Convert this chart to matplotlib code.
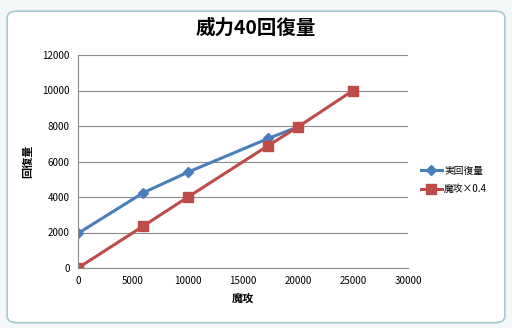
import matplotlib.pyplot as plt
from matplotlib.patches import FancyBboxPatch

plt.rcParams['font.family'] = ['Noto Sans CJK JP', 'DejaVu Sans']

# data
atk_real = [0, 5900, 10000, 17300, 20000]
heal_real = [1950, 4230, 5400, 7300, 7950]
atk_est = [0, 5900, 10000, 17300, 20000, 25000]
heal_est = [0, 2350, 4000, 6900, 7950, 10000]

x_ticks = [0, 5000, 10000, 15000, 20000, 25000, 30000]
y_ticks = [0, 2000, 4000, 6000, 8000, 10000, 12000]

fig = plt.figure(figsize=(5.12, 3.28), dpi=100)
fig.patch.set_facecolor('#f3f7f8')

# outer chart frame (Excel style)
frame = FancyBboxPatch((0.014, 0.016), 0.972, 0.95, boxstyle='round,pad=0,rounding_size=0.02',
                       transform=fig.transFigure, facecolor='white', edgecolor='#a9c6d3',
                       linewidth=1.2, zorder=-1)
fig.patches.append(frame)

ax = fig.add_axes([78 / 512, 1 - 268 / 328, 330 / 512, 213 / 328])
ax.set_facecolor('white')

ax.plot(atk_real, heal_real, color='#4a7ebb', lw=2.2, marker='D', ms=5, label='実回復量')
ax.plot(atk_est, heal_est, color='#be4b48', lw=2.2, marker='s', ms=7, label='魔攻×0.4')

ax.set_xlim(0, 30000)
ax.set_ylim(0, 12000)
ax.set_xticks(x_ticks)
ax.set_yticks(y_ticks)
ax.tick_params(labelsize=7, length=0, pad=6)
ax.grid(axis='y', color='#8c8c8c', lw=0.8)
ax.set_axisbelow(True)
for s in ['top', 'right']:
    ax.spines[s].set_visible(False)
ax.spines['left'].set_color('#8c8c8c')
ax.spines['bottom'].set_color('#8c8c8c')
for lab in ax.get_xticklabels() + ax.get_yticklabels():
    lab.set_clip_on(False)

ax.set_xlabel('魔攻', fontsize=8, fontweight='bold', labelpad=4)
ax.set_ylabel('回復量', fontsize=8, fontweight='bold', labelpad=6)

fig.text(0.5, 1 - 28 / 328, '威力40回復量', ha='center', va='center', fontsize=14, fontweight='bold')

fig.legend(loc='center left', bbox_to_anchor=(412 / 512, 1 - 180 / 328), frameon=False,
           fontsize=7, handlelength=2.2, handletextpad=0.2, labelspacing=0.9)

fig.savefig('out.png', dpi=100, facecolor=fig.get_facecolor())
